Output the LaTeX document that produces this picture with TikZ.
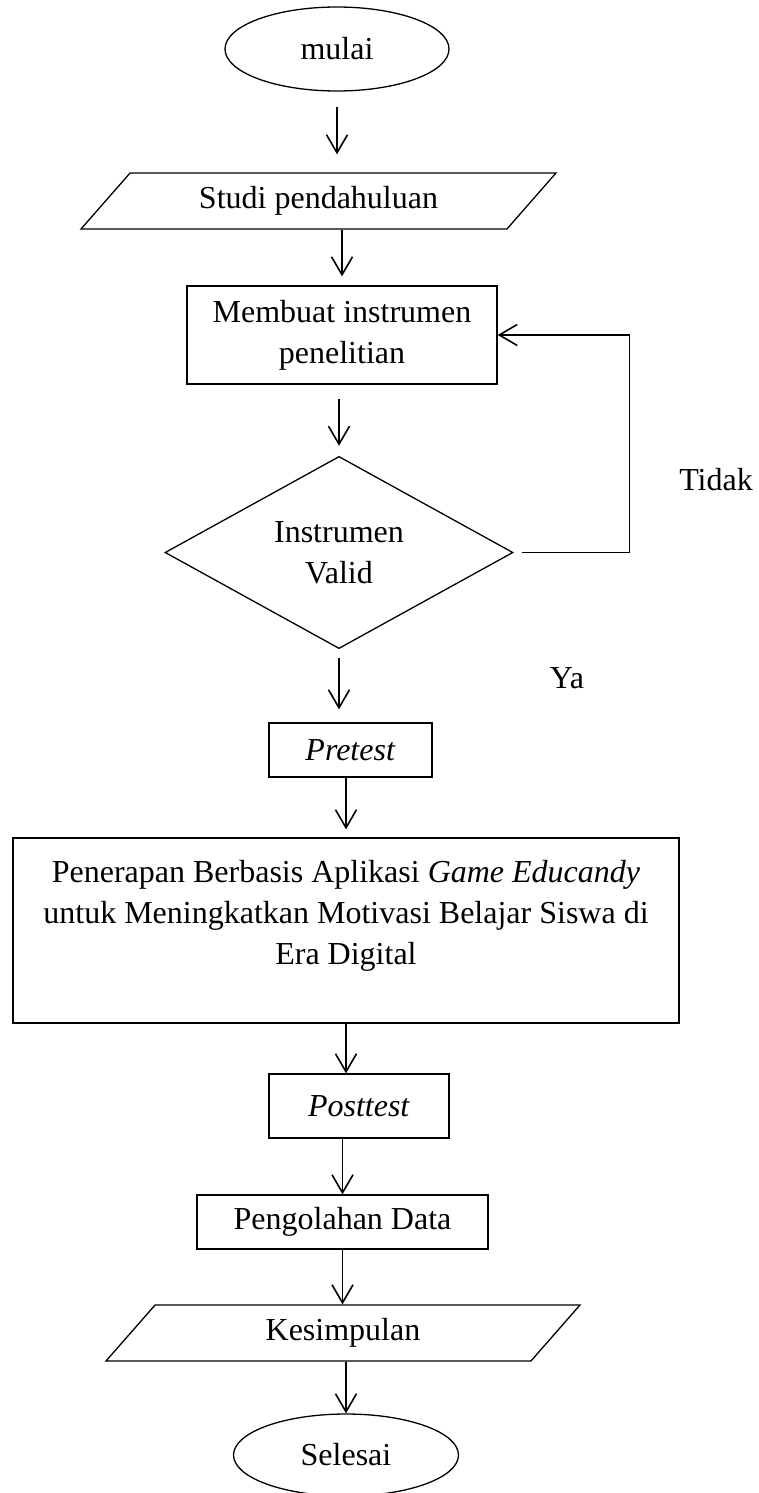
\documentclass[tikz,border=0pt]{standalone}
\usepackage{fontspec}
\setmainfont{Liberation Serif}
\usetikzlibrary{shapes.geometric,arrows.meta}

\begin{document}
\begin{tikzpicture}[x=1pt,y=-1pt,
    font=\fontsize{32}{41}\selectfont,
    line width=1.3pt,
    kotak/.style={draw,rectangle,inner sep=0pt,align=center},
    elips/.style={draw,ellipse,inner sep=0pt},
    jajar/.style={draw,trapezium,trapezium left angle=30.6,trapezium right angle=149.4,trapezium stretches body,inner sep=0pt},
    belah/.style={draw,diamond,inner sep=0pt,align=center},
    panah/.style={-{Straight Barb[length=18pt,width=21pt,line width=1.6pt]}}]
    % Batas gambar
    \useasboundingbox (0,0) rectangle (758,1493);

    % Simbol alur
    \node[elips,minimum width=224pt,minimum height=84pt] (mulai) at (337,49) {mulai};
    \node[jajar,minimum width=475pt,minimum height=56pt] (studi) at (318.5,201) {Studi pendahuluan};
    \node[kotak,minimum width=310pt,minimum height=98pt] (membuat) at (342,335) {Membuat instrumen\\penelitian};
    \node[belah,minimum width=348pt,minimum height=191pt] (valid) at (339,552.5) {Instrumen\\Valid};
    \node[kotak,minimum width=163pt,minimum height=54pt] (pretest) at (350.5,750) {\textit{Pretest}};
    \node[kotak,minimum width=666pt,minimum height=185pt] (terapan) at (346,930.5)
        {Penerapan Berbasis Aplikasi \textit{Game Educandy}\\untuk Meningkatkan Motivasi Belajar Siswa di\\Era Digital\\[-4pt]\mbox{}};
    \node[kotak,minimum width=180pt,minimum height=64pt] (posttest) at (359,1106) {\textit{Posttest}};
    \node[kotak,minimum width=291pt,minimum height=54pt] (olah) at (342.5,1222) {Pengolahan Data};
    \node[jajar,minimum width=474pt,minimum height=56pt] (simpul) at (343,1333) {Kesimpulan};
    \node[elips,minimum width=225pt,minimum height=82pt] (selesai) at (346,1455) {Selesai};

    % Keterangan
    \node (tidak) at (716,480) {Tidak};
    \node (ya) at (567,678) {Ya};

    % Panah
    \draw[panah,shorten <=15pt,shorten >=18pt] (mulai.south) -- (mulai.south |- studi.north);
    \draw[panah,shorten >=9pt] (membuat.north |- studi.south) -- (membuat.north);
    \draw[panah,shorten <=14pt,shorten >=10pt] (valid.north |- membuat.south) -- (valid.north);
    \draw[panah,shorten <=9pt,shorten >=13pt] (valid.south) -- (valid.south |- pretest.north);
    \draw[panah,shorten >=8pt] (terapan.north |- pretest.south) -- (terapan.north);
    \draw[panah] (terapan.south) -- (terapan.south |- posttest.north);
    \draw[panah] (olah.north |- posttest.south) -- (olah.north);
    \draw[panah] (olah.south) -- (olah.south |- simpul.north);
    \draw[panah] (selesai.north |- simpul.south) -- (selesai.north);
    \draw[panah] ([xshift=8pt]valid.east) -- ++(108,0) |- (membuat.east);
\end{tikzpicture}
\end{document}
